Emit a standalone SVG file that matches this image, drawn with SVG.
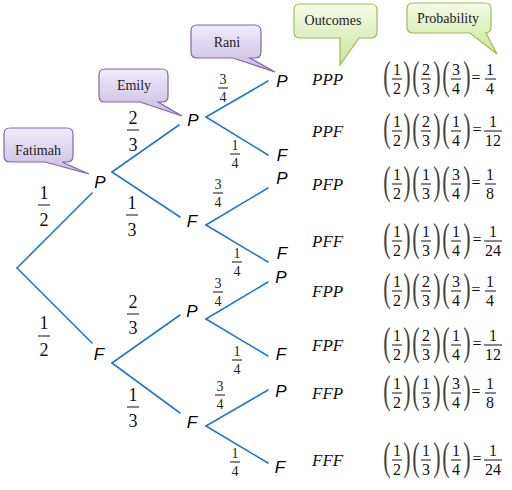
<svg xmlns="http://www.w3.org/2000/svg" width="512" height="490" viewBox="0 0 512 490">
<defs>
<linearGradient id="gp" x1="0" y1="0" x2="0" y2="1"><stop offset="0" stop-color="#f1ecf8"/><stop offset="1" stop-color="#c7b9e4"/></linearGradient>
<linearGradient id="gg" x1="0" y1="0" x2="0" y2="1"><stop offset="0" stop-color="#f6fbe6"/><stop offset="1" stop-color="#c9e69a"/></linearGradient>
</defs>
<style>
.ln{stroke:#1f7ac9;stroke-width:1.6;fill:none;stroke-linecap:round}
.cp{fill:url(#gp);stroke:#8466ab;stroke-width:1.2}
.cg{fill:url(#gg);stroke:#9cbc5a;stroke-width:1.2}
.ct{font-family:"Liberation Serif","Times New Roman",serif;font-size:14px;fill:#222;text-anchor:middle}
.nd{font-family:"Liberation Sans",Arial,sans-serif;font-style:italic;font-size:17px;fill:#000;text-anchor:middle}
.fb{font-family:"Liberation Serif","Times New Roman",serif;font-size:18px;fill:#111;text-anchor:middle}
.fs{font-family:"Liberation Serif","Times New Roman",serif;font-size:14px;fill:#222;text-anchor:middle}
.oc{font-family:"Liberation Serif","Times New Roman",serif;font-style:italic;font-size:17px;fill:#111}
.eq{font-family:"Liberation Serif","Times New Roman",serif;font-size:16px;fill:#111;text-anchor:middle}
.pr{font-family:"Liberation Serif","Times New Roman",serif;font-size:40px;fill:#444;text-anchor:middle}
.br{stroke:#111;stroke-width:1}
</style>

<g id="callouts">
<g id="fatimah"><path class="cp" d="M10,128 H67 Q73,128 73,134 V156 Q73,162 67,162 H62 L89,174 L45,162 H10 Q4,162 4,156 V134 Q4,128 10,128 Z"/><text class="ct" x="38" y="155">Fatimah</text></g>
<g id="emily"><path class="cp" d="M105,69 H162 Q168,69 168,75 V96 Q168,102 162,102 H158 L182,116 L140,102 H105 Q99,102 99,96 V75 Q99,69 105,69 Z"/><text class="ct" x="134" y="90">Emily</text></g>
<g id="rani"><path class="cp" d="M197,25 H255 Q261,25 261,31 V52 Q261,58 255,58 H250 L275,72 L233,58 H197 Q191,58 191,52 V31 Q191,25 197,25 Z"/><text class="ct" x="227" y="47">Rani</text></g>
<g id="outcomes"><path class="cg" d="M300,4 H371 Q377,4 377,10 V32 Q377,38 371,38 H359 L340,65 L340,38 H300 Q294,38 294,32 V10 Q294,4 300,4 Z"/><text class="ct" x="333" y="25">Outcomes</text></g>
<g id="probability"><path class="cg" d="M413,3 H485 Q491,3 491,9 V27 Q491,33 485,33 H486 L497,54 L470,33 H413 Q407,33 407,27 V9 Q407,3 413,3 Z"/><text class="ct" x="448" y="23">Probability</text></g>
</g>

<g id="connectors">
<line class="ln" x1="17" y1="268" x2="92" y2="193"/>
<line class="ln" x1="17" y1="268" x2="92" y2="343"/>
<line class="ln" x1="112" y1="172" x2="179" y2="125"/>
<line class="ln" x1="112" y1="172" x2="180" y2="217"/>
<line class="ln" x1="112" y1="363" x2="180" y2="315"/>
<line class="ln" x1="112" y1="363" x2="180" y2="413"/>
<line class="ln" x1="206" y1="117" x2="268" y2="81"/>
<line class="ln" x1="206" y1="117" x2="268" y2="155"/>
<line class="ln" x1="206" y1="225" x2="268" y2="188"/>
<line class="ln" x1="206" y1="225" x2="268" y2="262"/>
<line class="ln" x1="206" y1="319" x2="268" y2="282"/>
<line class="ln" x1="206" y1="319" x2="268" y2="356"/>
<line class="ln" x1="206" y1="426" x2="268" y2="390"/>
<line class="ln" x1="206" y1="426" x2="268" y2="463"/>
</g>

<g id="nodes">
<text id="n1P" class="nd" x="100" y="188">P</text>
<text id="n1F" class="nd" x="99" y="360">F</text>
<text id="n2P1" class="nd" x="193" y="126">P</text>
<text id="n2F1" class="nd" x="192" y="227">F</text>
<text id="n2P2" class="nd" x="192" y="317">P</text>
<text id="n2F2" class="nd" x="192" y="428">F</text>
<text id="n3a" class="nd" x="282" y="87">P</text>
<text id="n3b" class="nd" x="282" y="161">F</text>
<text id="n3c" class="nd" x="282" y="184">P</text>
<text id="n3d" class="nd" x="282" y="259">F</text>
<text id="n3e" class="nd" x="281" y="283">P</text>
<text id="n3f" class="nd" x="281" y="360">F</text>
<text id="n3g" class="nd" x="281" y="397">P</text>
<text id="n3h" class="nd" x="280" y="473">F</text>
</g>

<g id="branch-probabilities">
<text class="fb" x="44" y="199">1</text><line class="br" x1="38" y1="205" x2="50" y2="205"/><text class="fb" x="44" y="226">2</text>
<text class="fb" x="44" y="329">1</text><line class="br" x1="38" y1="336" x2="50" y2="336"/><text class="fb" x="44" y="356">2</text>
<text class="fb" x="133" y="124">2</text><line class="br" x1="127" y1="130" x2="139" y2="130"/><text class="fb" x="133" y="151">3</text>
<text class="fb" x="132" y="209">1</text><line class="br" x1="126" y1="215" x2="138" y2="215"/><text class="fb" x="132" y="236">3</text>
<text class="fb" x="133" y="308">2</text><line class="br" x1="127" y1="314" x2="139" y2="314"/><text class="fb" x="133" y="334">3</text>
<text class="fb" x="133" y="401">1</text><line class="br" x1="127" y1="407" x2="139" y2="407"/><text class="fb" x="133" y="427">3</text>

<text class="fs" x="223" y="84">3</text><line class="br" x1="218" y1="88" x2="228" y2="88"/><text class="fs" x="223" y="102">4</text>
<text class="fs" x="235" y="150">1</text><line class="br" x1="230" y1="154" x2="240" y2="154"/><text class="fs" x="235" y="168">4</text>
<text class="fs" x="218" y="189">3</text><line class="br" x1="213" y1="193" x2="223" y2="193"/><text class="fs" x="218" y="207">4</text>
<text class="fs" x="237" y="258">1</text><line class="br" x1="232" y1="262" x2="242" y2="262"/><text class="fs" x="237" y="276">4</text>
<text class="fs" x="218" y="288">3</text><line class="br" x1="213" y1="292" x2="223" y2="292"/><text class="fs" x="218" y="306">4</text>
<text class="fs" x="237" y="356">1</text><line class="br" x1="232" y1="360" x2="242" y2="360"/><text class="fs" x="237" y="374">4</text>
<text class="fs" x="220" y="391">3</text><line class="br" x1="215" y1="395" x2="225" y2="395"/><text class="fs" x="220" y="409">4</text>
<text class="fs" x="235" y="458">1</text><line class="br" x1="230" y1="462" x2="240" y2="462"/><text class="fs" x="235" y="476">4</text>
</g>

<g id="outcomes-list">
<text class="oc" x="312" y="85">PPP</text>
<text class="oc" x="312" y="137">PPF</text>
<text class="oc" x="312" y="190">PFP</text>
<text class="oc" x="312" y="247">PFF</text>
<text class="oc" x="312" y="297">FPP</text>
<text class="oc" x="312" y="351">FPF</text>
<text class="oc" x="312" y="399">FFP</text>
<text class="oc" x="312" y="466">FFF</text>
</g>

<g id="probabilities">
<g transform="translate(0,79)">
<text class="pr" transform="translate(387,10) scale(0.55 1)">(</text><text class="pr" transform="translate(407,10) scale(0.55 1)">)</text>
<text class="pr" transform="translate(416,10) scale(0.55 1)">(</text><text class="pr" transform="translate(437,10) scale(0.55 1)">)</text>
<text class="pr" transform="translate(446,10) scale(0.55 1)">(</text><text class="pr" transform="translate(467,10) scale(0.55 1)">)</text>
<text class="eq" x="397" y="-4">1</text><line class="br" x1="392" y1="0" x2="402" y2="0"/><text class="eq" x="397" y="15">2</text>
<text class="eq" x="426" y="-4">2</text><line class="br" x1="421" y1="0" x2="431" y2="0"/><text class="eq" x="426" y="15">3</text>
<text class="eq" x="456" y="-4">3</text><line class="br" x1="451" y1="0" x2="461" y2="0"/><text class="eq" x="456" y="15">4</text>
<text class="eq" x="476" y="4">=</text>
<text class="eq" x="490" y="-4">1</text><line class="br" x1="485" y1="0" x2="496" y2="0"/><text class="eq" x="490" y="15">4</text>
</g>
<g transform="translate(0,131)">
<text class="pr" transform="translate(387,10) scale(0.55 1)">(</text><text class="pr" transform="translate(407,10) scale(0.55 1)">)</text>
<text class="pr" transform="translate(416,10) scale(0.55 1)">(</text><text class="pr" transform="translate(437,10) scale(0.55 1)">)</text>
<text class="pr" transform="translate(446,10) scale(0.55 1)">(</text><text class="pr" transform="translate(467,10) scale(0.55 1)">)</text>
<text class="eq" x="397" y="-4">1</text><line class="br" x1="392" y1="0" x2="402" y2="0"/><text class="eq" x="397" y="15">2</text>
<text class="eq" x="426" y="-4">2</text><line class="br" x1="421" y1="0" x2="431" y2="0"/><text class="eq" x="426" y="15">3</text>
<text class="eq" x="456" y="-4">1</text><line class="br" x1="451" y1="0" x2="461" y2="0"/><text class="eq" x="456" y="15">4</text>
<text class="eq" x="477" y="4">=</text>
<text class="eq" x="493" y="-4">1</text><line class="br" x1="484" y1="0" x2="502" y2="0"/><text class="eq" x="493" y="15">12</text>
</g>
<g transform="translate(0,184)">
<text class="pr" transform="translate(387,10) scale(0.55 1)">(</text><text class="pr" transform="translate(407,10) scale(0.55 1)">)</text>
<text class="pr" transform="translate(416,10) scale(0.55 1)">(</text><text class="pr" transform="translate(437,10) scale(0.55 1)">)</text>
<text class="pr" transform="translate(446,10) scale(0.55 1)">(</text><text class="pr" transform="translate(467,10) scale(0.55 1)">)</text>
<text class="eq" x="397" y="-4">1</text><line class="br" x1="392" y1="0" x2="402" y2="0"/><text class="eq" x="397" y="15">2</text>
<text class="eq" x="426" y="-4">1</text><line class="br" x1="421" y1="0" x2="431" y2="0"/><text class="eq" x="426" y="15">3</text>
<text class="eq" x="456" y="-4">3</text><line class="br" x1="451" y1="0" x2="461" y2="0"/><text class="eq" x="456" y="15">4</text>
<text class="eq" x="476" y="4">=</text>
<text class="eq" x="490" y="-4">1</text><line class="br" x1="485" y1="0" x2="496" y2="0"/><text class="eq" x="490" y="15">8</text>
</g>
<g transform="translate(0,241)">
<text class="pr" transform="translate(387,10) scale(0.55 1)">(</text><text class="pr" transform="translate(407,10) scale(0.55 1)">)</text>
<text class="pr" transform="translate(416,10) scale(0.55 1)">(</text><text class="pr" transform="translate(437,10) scale(0.55 1)">)</text>
<text class="pr" transform="translate(446,10) scale(0.55 1)">(</text><text class="pr" transform="translate(467,10) scale(0.55 1)">)</text>
<text class="eq" x="397" y="-4">1</text><line class="br" x1="392" y1="0" x2="402" y2="0"/><text class="eq" x="397" y="15">2</text>
<text class="eq" x="426" y="-4">1</text><line class="br" x1="421" y1="0" x2="431" y2="0"/><text class="eq" x="426" y="15">3</text>
<text class="eq" x="456" y="-4">1</text><line class="br" x1="451" y1="0" x2="461" y2="0"/><text class="eq" x="456" y="15">4</text>
<text class="eq" x="477" y="4">=</text>
<text class="eq" x="493" y="-4">1</text><line class="br" x1="484" y1="0" x2="502" y2="0"/><text class="eq" x="493" y="15">24</text>
</g>
<g transform="translate(0,291)">
<text class="pr" transform="translate(387,10) scale(0.55 1)">(</text><text class="pr" transform="translate(407,10) scale(0.55 1)">)</text>
<text class="pr" transform="translate(416,10) scale(0.55 1)">(</text><text class="pr" transform="translate(437,10) scale(0.55 1)">)</text>
<text class="pr" transform="translate(446,10) scale(0.55 1)">(</text><text class="pr" transform="translate(467,10) scale(0.55 1)">)</text>
<text class="eq" x="397" y="-4">1</text><line class="br" x1="392" y1="0" x2="402" y2="0"/><text class="eq" x="397" y="15">2</text>
<text class="eq" x="426" y="-4">2</text><line class="br" x1="421" y1="0" x2="431" y2="0"/><text class="eq" x="426" y="15">3</text>
<text class="eq" x="456" y="-4">3</text><line class="br" x1="451" y1="0" x2="461" y2="0"/><text class="eq" x="456" y="15">4</text>
<text class="eq" x="476" y="4">=</text>
<text class="eq" x="490" y="-4">1</text><line class="br" x1="485" y1="0" x2="496" y2="0"/><text class="eq" x="490" y="15">4</text>
</g>
<g transform="translate(0,345)">
<text class="pr" transform="translate(387,10) scale(0.55 1)">(</text><text class="pr" transform="translate(407,10) scale(0.55 1)">)</text>
<text class="pr" transform="translate(416,10) scale(0.55 1)">(</text><text class="pr" transform="translate(437,10) scale(0.55 1)">)</text>
<text class="pr" transform="translate(446,10) scale(0.55 1)">(</text><text class="pr" transform="translate(467,10) scale(0.55 1)">)</text>
<text class="eq" x="397" y="-4">1</text><line class="br" x1="392" y1="0" x2="402" y2="0"/><text class="eq" x="397" y="15">2</text>
<text class="eq" x="426" y="-4">2</text><line class="br" x1="421" y1="0" x2="431" y2="0"/><text class="eq" x="426" y="15">3</text>
<text class="eq" x="456" y="-4">1</text><line class="br" x1="451" y1="0" x2="461" y2="0"/><text class="eq" x="456" y="15">4</text>
<text class="eq" x="477" y="4">=</text>
<text class="eq" x="493" y="-4">1</text><line class="br" x1="484" y1="0" x2="502" y2="0"/><text class="eq" x="493" y="15">12</text>
</g>
<g transform="translate(0,393)">
<text class="pr" transform="translate(387,10) scale(0.55 1)">(</text><text class="pr" transform="translate(407,10) scale(0.55 1)">)</text>
<text class="pr" transform="translate(416,10) scale(0.55 1)">(</text><text class="pr" transform="translate(437,10) scale(0.55 1)">)</text>
<text class="pr" transform="translate(446,10) scale(0.55 1)">(</text><text class="pr" transform="translate(467,10) scale(0.55 1)">)</text>
<text class="eq" x="397" y="-4">1</text><line class="br" x1="392" y1="0" x2="402" y2="0"/><text class="eq" x="397" y="15">2</text>
<text class="eq" x="426" y="-4">1</text><line class="br" x1="421" y1="0" x2="431" y2="0"/><text class="eq" x="426" y="15">3</text>
<text class="eq" x="456" y="-4">3</text><line class="br" x1="451" y1="0" x2="461" y2="0"/><text class="eq" x="456" y="15">4</text>
<text class="eq" x="476" y="4">=</text>
<text class="eq" x="490" y="-4">1</text><line class="br" x1="485" y1="0" x2="496" y2="0"/><text class="eq" x="490" y="15">8</text>
</g>
<g transform="translate(0,460)">
<text class="pr" transform="translate(387,10) scale(0.55 1)">(</text><text class="pr" transform="translate(407,10) scale(0.55 1)">)</text>
<text class="pr" transform="translate(416,10) scale(0.55 1)">(</text><text class="pr" transform="translate(437,10) scale(0.55 1)">)</text>
<text class="pr" transform="translate(446,10) scale(0.55 1)">(</text><text class="pr" transform="translate(467,10) scale(0.55 1)">)</text>
<text class="eq" x="397" y="-4">1</text><line class="br" x1="392" y1="0" x2="402" y2="0"/><text class="eq" x="397" y="15">2</text>
<text class="eq" x="426" y="-4">1</text><line class="br" x1="421" y1="0" x2="431" y2="0"/><text class="eq" x="426" y="15">3</text>
<text class="eq" x="456" y="-4">1</text><line class="br" x1="451" y1="0" x2="461" y2="0"/><text class="eq" x="456" y="15">4</text>
<text class="eq" x="477" y="4">=</text>
<text class="eq" x="493" y="-4">1</text><line class="br" x1="484" y1="0" x2="502" y2="0"/><text class="eq" x="493" y="15">24</text>
</g>
</g>
</svg>
